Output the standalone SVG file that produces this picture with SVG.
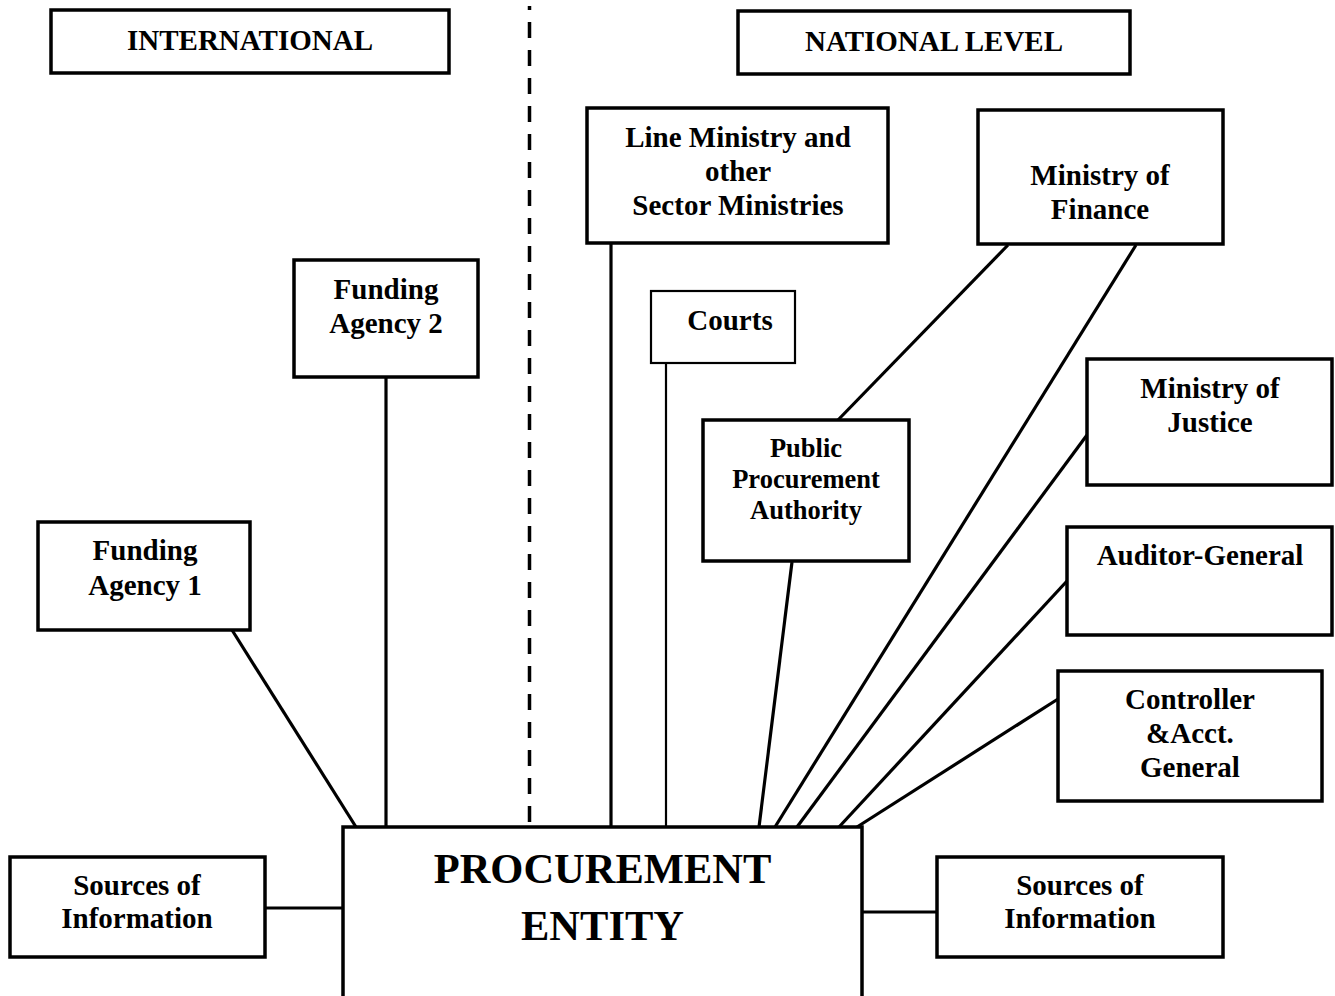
<svg xmlns="http://www.w3.org/2000/svg" width="1335" height="996" viewBox="0 0 1335 996">
<style>
.box{fill:#fff;stroke:#000;stroke-width:3.5}
.t{font-family:"Liberation Serif","Times New Roman",serif;font-weight:bold;font-size:29px;fill:#000;text-anchor:middle}
.s{font-size:26.5px}
.big{font-size:42.5px}
.c{stroke:#000;stroke-width:3.2;fill:none}
.thin{stroke-width:2.2}
</style>
<rect width="1335" height="996" fill="#fff"/>
<g id="connectors">
<line class="c" x1="232" y1="630" x2="356" y2="827"/>
<line class="c" x1="386" y1="377" x2="386" y2="827"/>
<line class="c" x1="529.5" y1="6" x2="529.5" y2="822" stroke-dasharray="16 12" stroke-dashoffset="12" style="stroke-width:3.5"/>
<line class="c" x1="611" y1="243" x2="611" y2="827"/>
<line class="c thin" x1="666" y1="363" x2="666" y2="827"/>
<line class="c" x1="792" y1="562" x2="759" y2="827"/>
<line class="c" x1="1008" y1="245" x2="838" y2="420"/>
<line class="c" x1="1136" y1="245" x2="775" y2="827"/>
<line class="c" x1="1087" y1="435" x2="797" y2="827"/>
<line class="c" x1="1067" y1="581" x2="839" y2="827"/>
<line class="c" x1="1058" y1="699" x2="857" y2="827"/>
<line class="c" x1="265" y1="908" x2="343" y2="908"/>
<line class="c" x1="862" y1="912" x2="937" y2="912"/>
</g>
<g id="international">
<rect class="box" x="51" y="10" width="398" height="63"/>
<text class="t" x="250" y="50">INTERNATIONAL</text>
</g>
<g id="national-level">
<rect class="box" x="738" y="11" width="392" height="63"/>
<text class="t" x="934" y="51">NATIONAL LEVEL</text>
</g>
<g id="line-ministry">
<rect class="box" x="587" y="108" width="301" height="135"/>
<text class="t" x="738" y="147">Line Ministry and</text>
<text class="t" x="738" y="181">other</text>
<text class="t" x="738" y="215">Sector Ministries</text>
</g>
<g id="ministry-finance">
<rect class="box" x="978" y="110" width="245" height="134"/>
<text class="t" x="1100" y="185">Ministry of</text>
<text class="t" x="1100" y="219">Finance</text>
</g>
<g id="funding-agency-2">
<rect class="box" x="294" y="260" width="184" height="117"/>
<text class="t" x="386" y="299">Funding</text>
<text class="t" x="386" y="333">Agency 2</text>
</g>
<g id="courts">
<rect class="box" x="651" y="291" width="144" height="72" style="stroke-width:2.2"/>
<text class="t" x="730" y="330">Courts</text>
</g>
<g id="ministry-justice">
<rect class="box" x="1087" y="359" width="245" height="126"/>
<text class="t" x="1210" y="398">Ministry of</text>
<text class="t" x="1210" y="432">Justice</text>
</g>
<g id="ppa">
<rect class="box" x="703" y="420" width="206" height="141"/>
<text class="t s" x="806" y="457">Public</text>
<text class="t s" x="806" y="488">Procurement</text>
<text class="t s" x="806" y="519">Authority</text>
</g>
<g id="funding-agency-1">
<rect class="box" x="38" y="522" width="212" height="108"/>
<text class="t" x="145" y="560">Funding</text>
<text class="t" x="145" y="595">Agency 1</text>
</g>
<g id="auditor-general">
<rect class="box" x="1067" y="527" width="265" height="108"/>
<text class="t" x="1200" y="565">Auditor-General</text>
</g>
<g id="controller">
<rect class="box" x="1058" y="671" width="264" height="130"/>
<text class="t" x="1190" y="709">Controller</text>
<text class="t" x="1190" y="743">&amp;Acct.</text>
<text class="t" x="1190" y="777">General</text>
</g>
<g id="procurement-entity">
<rect class="box" x="343" y="827" width="519" height="175"/>
<text class="t big" x="602.5" y="883">PROCUREMENT</text>
<text class="t big" x="602.5" y="940">ENTITY</text>
</g>
<g id="sources-left">
<rect class="box" x="10" y="857" width="255" height="100"/>
<text class="t" x="137" y="895">Sources of</text>
<text class="t" x="137" y="928">Information</text>
</g>
<g id="sources-right">
<rect class="box" x="937" y="857" width="286" height="100"/>
<text class="t" x="1080" y="895">Sources of</text>
<text class="t" x="1080" y="928">Information</text>
</g>
</svg>
